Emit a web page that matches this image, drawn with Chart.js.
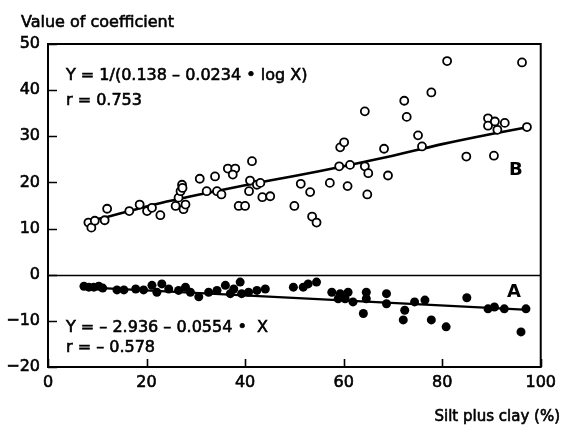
<!DOCTYPE html>
<html>
<head>
<meta charset="utf-8">
<script src="https://cdn.jsdelivr.net/npm/chart.js@4/dist/chart.umd.min.js"></script>
<style>
html,body{margin:0;padding:0;background:#fff;}
#wrap{width:562px;height:425px;position:relative;}
</style>
</head>
<body>
<div id="wrap"><canvas id="c" width="562" height="425"></canvas></div>
<script>
// ---- data ----
const xTickValues = [0, 20, 40, 60, 80, 100];
const yTickValues = [-20, -10, 0, 10, 20, 30, 40, 50];

// Series B (open circles)
const bX = [8.2, 8.8, 9.5, 11.5, 12.0, 16.5, 18.6, 20.1, 21.1, 22.8, 25.9, 26.5, 26.9, 27.2, 27.3, 27.5, 27.9,
            30.8, 32.2, 33.9, 34.3, 35.2, 36.5, 38.0, 37.5, 38.7, 40.0, 41.0, 40.8, 41.4, 42.4, 43.5, 45.1, 43.1,
            50.0, 51.3, 53.2, 53.6, 54.5, 57.2, 59.3, 60.1, 59.1, 61.3, 60.8, 64.3, 64.3, 65.0, 64.8, 68.2, 69.0,
            72.3, 72.8, 75.1, 75.9, 77.8, 81.0, 84.9, 89.3, 89.3, 90.7, 91.2, 92.7, 90.5, 96.2, 97.2];
const bY = [11.3, 10.2, 11.7, 11.8, 14.3, 13.8, 15.2, 13.8, 14.5, 12.9, 14.9, 16.7, 18.1, 19.5, 18.8, 14.2, 15.2,
            20.8, 18.1, 21.3, 18.1, 17.4, 23.0, 23.0, 21.7, 14.9, 14.9, 20.4, 18.1, 24.6, 19.5, 16.8, 17.0, 19.9,
            14.9, 19.7, 17.9, 12.6, 11.3, 19.9, 27.6, 28.7, 23.5, 23.8, 19.2, 35.4, 23.5, 22.0, 17.4, 27.3, 21.5,
            37.7, 34.2, 30.2, 27.8, 39.5, 46.3, 25.6, 33.9, 32.3, 33.2, 31.4, 32.9, 25.8, 46.0, 32.0];

// Series A (filled circles)
const aX = [7.3, 8.3, 9.3, 10.3, 11.1, 14.0, 15.4, 17.8, 19.4, 21.1, 22.1, 23.1, 24.5, 26.5, 27.9, 28.9, 30.6,
            32.6, 34.3, 36.0, 37.0, 37.7, 39.0, 39.3, 40.7, 42.4, 44.1, 49.8, 51.8, 52.8, 54.5, 57.6, 58.9, 59.3,
            60.3, 60.9, 61.9, 64.0, 64.6, 64.6, 68.7, 68.7, 72.1, 72.4, 74.4, 76.5, 77.8, 80.8, 85.0, 89.3, 90.6,
            92.6, 96.0, 97.0];
const aY = [-2.5, -2.7, -2.7, -2.5, -2.9, -3.3, -3.3, -3.1, -3.3, -2.3, -3.8, -2.0, -3.1, -3.4, -2.7, -3.8, -4.8,
            -3.8, -3.4, -2.3, -4.1, -3.1, -1.6, -4.1, -3.8, -3.4, -3.1, -2.7, -2.7, -2.0, -1.6, -3.8, -5.2, -4.1,
            -5.2, -3.8, -5.9, -8.4, -3.8, -5.2, -4.1, -6.3, -9.8, -7.7, -5.9, -5.5, -9.8, -11.3, -5.0, -7.4, -7.0,
            -7.4, -12.4, -7.4];

// Fitted lines as drawn in the reference
const bLineX = [7.5, 12, 20, 30, 40, 50, 60, 70, 80, 90, 97.5];
const bLineY = [11.6, 12.5, 14.8, 17.2, 19.4, 21.4, 23.5, 25.8, 28.3, 30.5, 32.0];
const aLineX = [7, 97.5];
const aLineY = [-2.7, -7.6];

// Text
const yAxisTitle = 'Value of coefficient';
const xAxisTitle = 'Silt plus clay (%)';
const eqB = ['Y = 1/(0.138 \u2013 0.0234 \u2022 log X)', 'r = 0.753'];
const eqA = ['Y = \u2013 2.936 \u2013 0.0554 \u2022  X', 'r = \u2013 0.578'];
const labelB = 'B';
const labelA = 'A';

const zip = (xs, ys) => xs.map((x, i) => ({x: x, y: ys[i]}));
const FONT = '"DejaVu Sans", "Liberation Sans", Arial, sans-serif';

function heavyText(ctx, t, x, y) {
  ctx.fillText(t, x, y);
  ctx.strokeText(t, x, y);
}

const framePlugin = {
  id: 'framePlugin',
  beforeDatasetsDraw(chart) {
    const ctx = chart.ctx, ys = chart.scales.y;
    const a = chart.chartArea;
    ctx.save();
    ctx.strokeStyle = '#000';
    ctx.lineWidth = 1.6;
    const y0 = Math.round(ys.getPixelForValue(0)) + 0.5;
    ctx.beginPath();
    ctx.moveTo(a.left, y0);
    ctx.lineTo(a.right, y0);
    ctx.stroke();
    ctx.restore();
  },
  afterDraw(chart) {
    const ctx = chart.ctx, xs = chart.scales.x, ys = chart.scales.y;
    const a = chart.chartArea;
    ctx.save();
    ctx.strokeStyle = '#000';
    ctx.lineWidth = 2;
    ctx.strokeRect(a.left, a.top, a.right - a.left, a.bottom - a.top);
    ctx.lineWidth = 1.6;
    ctx.beginPath();
    yTickValues.forEach(v => {
      const py = Math.round(ys.getPixelForValue(v)) + 0.5;
      ctx.moveTo(a.left, py);
      ctx.lineTo(a.left + 9, py);
    });
    xTickValues.forEach(v => {
      const px = Math.round(xs.getPixelForValue(v)) + 0.5;
      ctx.moveTo(px, a.bottom);
      ctx.lineTo(px, a.bottom - 8);
    });
    ctx.stroke();

    ctx.fillStyle = '#000';
    ctx.strokeStyle = '#000';
    ctx.lineWidth = 0.6;
    ctx.textBaseline = 'alphabetic';
    ctx.textAlign = 'left';
    ctx.font = '16px ' + FONT;
    heavyText(ctx, yAxisTitle, 21, 26.5);
    heavyText(ctx, eqB[0], 66, 80);
    heavyText(ctx, eqB[1], 66, 105);
    heavyText(ctx, eqA[0], 66, 331.5);
    heavyText(ctx, eqA[1], 66, 351.5);
    ctx.font = '15px ' + FONT;
    ctx.textAlign = 'right';
    heavyText(ctx, xAxisTitle, 560, 421);
    ctx.font = 'bold 18px ' + FONT;
    ctx.textAlign = 'left';
    ctx.fillText(labelB, 509, 175);
    ctx.fillText(labelA, 507, 297);
    ctx.restore();
  }
};

new Chart(document.getElementById('c'), {
  type: 'scatter',
  data: {
    datasets: [
      { label: 'B', data: zip(bX, bY), pointStyle: 'circle', pointRadius: 4, borderWidth: 1.8,
        borderColor: '#000', backgroundColor: '#fff', showLine: false },
      { label: 'A', data: zip(aX, aY), pointStyle: 'circle', pointRadius: 4.5, borderWidth: 0,
        borderColor: '#000', backgroundColor: '#000', showLine: false },
      { label: 'B fit', data: zip(bLineX, bLineY), showLine: true, pointRadius: 0, borderWidth: 2.6,
        borderColor: '#000', backgroundColor: '#000', tension: 0.3 },
      { label: 'A fit', data: zip(aLineX, aLineY), showLine: true, pointRadius: 0, borderWidth: 2.2,
        borderColor: '#000', backgroundColor: '#000' }
    ]
  },
  options: {
    responsive: false,
    animation: false,
    layout: { padding: { left: 0, top: 44, right: 18, bottom: 0 } },
    plugins: { legend: { display: false }, tooltip: { enabled: false }, title: { display: false } },
    scales: {
      x: {
        type: 'linear', min: 0, max: 100,
        afterBuildTicks: s => { s.ticks = xTickValues.map(v => ({ value: v })); },
        afterFit: s => { s.height = 58; },
        grid: { display: false, drawTicks: false },
        border: { display: false },
        ticks: { padding: 6, color: '#000', font: { family: FONT, size: 16 }, maxRotation: 0,
                 textStrokeColor: '#000', textStrokeWidth: 0.6 }
      },
      y: {
        type: 'linear', min: -20, max: 50,
        afterBuildTicks: s => { s.ticks = yTickValues.map(v => ({ value: v })); },
        afterFit: s => { s.width = 48; },
        grid: { display: false, drawTicks: false },
        border: { display: false },
        ticks: { padding: 8, color: '#000', font: { family: FONT, size: 16 },
                 textStrokeColor: '#000', textStrokeWidth: 0.6,
                 callback: v => String(v).replace('-', '\u2212') }
      }
    }
  },
  plugins: [framePlugin]
});
</script>
</body>
</html>
